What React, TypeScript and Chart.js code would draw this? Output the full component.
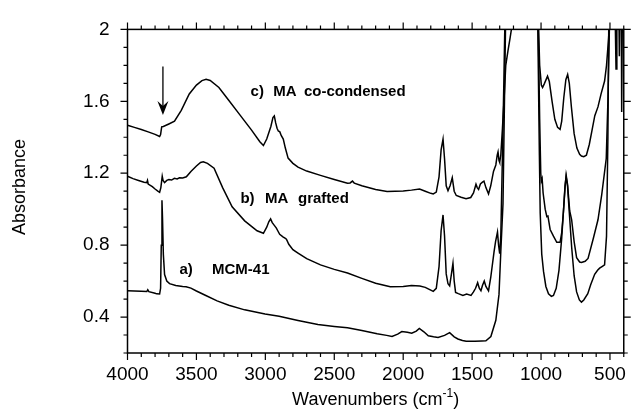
import React, { useEffect, useRef } from "react";
import { Chart, registerables } from "chart.js";

Chart.register(...registerables);

// ---- data (wavenumber cm-1 / absorbance) ----
const WN_A = [4000,3950,3900,3860,3853,3845,3800,3788,3767,3760,3755,3750,3746,3740,3731,3715,3695,3650,3600,3575,3540,3500,3432,3350,3265,3150,3002,2900,2763,2619,2500,2404,2300,2189,2120,2081,2040,2010,1970,1938,1905,1883,1850,1818,1780,1747,1700,1663,1630,1603,1570,1543,1480,1430,1400,1364,1328,1305,1292,1276,1257,1240,1100,1040,1025,1012,1006,995,982,965,946,925,910,890,870,850,835,826,818,808,795,778,760,742,722,707,690,661,640,611,590,575,555,539,525,515,508,490,400];
const ABS_A = [0.546,0.545,0.543,0.542,0.552,0.541,0.532,0.529,0.528,0.56,0.8,1.049,0.95,0.75,0.636,0.6,0.586,0.576,0.57,0.568,0.561,0.545,0.52,0.49,0.466,0.44,0.417,0.405,0.381,0.358,0.348,0.34,0.325,0.307,0.298,0.292,0.305,0.319,0.315,0.31,0.322,0.337,0.318,0.296,0.29,0.286,0.298,0.313,0.29,0.278,0.27,0.265,0.266,0.267,0.268,0.292,0.382,0.526,0.762,1.03,2.05,2.4,2.5,2.5,2.1,1.3,0.977,0.75,0.654,0.57,0.529,0.515,0.52,0.56,0.66,0.84,1.02,1.13,1.18,1.13,0.98,0.79,0.63,0.54,0.495,0.483,0.495,0.53,0.58,0.638,0.66,0.672,0.682,0.69,0.85,1.4,2.1,2.5,2.5];

const WN_B = [4000,3960,3920,3880,3860,3855,3850,3820,3800,3780,3767,3758,3748,3742,3731,3715,3700,3680,3660,3640,3623,3600,3573,3540,3500,3470,3450,3420,3372,3310,3241,3150,3060,3014,2990,2975,2962,2950,2935,2920,2910,2896,2870,2860,2847,2830,2800,2763,2700,2600,2500,2404,2300,2200,2094,2000,1940,1879,1840,1800,1782,1760,1740,1725,1711,1700,1688,1675,1663,1650,1639,1630,1620,1600,1567,1540,1508,1490,1475,1460,1448,1436,1425,1412,1400,1381,1365,1341,1330,1316,1308,1300,1292,1280,1270,1262,1240,1100,1040,1022,1010,1002,998,992,985,970,958,950,934,910,886,862,850,838,826,818,808,792,778,760,742,720,707,680,659,620,587,560,527,515,503,480,400];
const ABS_B = [1.183,1.17,1.16,1.15,1.148,1.16,1.14,1.125,1.112,1.1,1.094,1.12,1.183,1.16,1.148,1.16,1.165,1.162,1.172,1.168,1.175,1.174,1.18,1.21,1.24,1.26,1.264,1.255,1.228,1.12,1.013,0.935,0.88,0.866,0.9,0.93,0.946,0.925,0.91,0.895,0.88,0.86,0.845,0.84,0.833,0.805,0.775,0.756,0.725,0.69,0.665,0.645,0.615,0.588,0.568,0.57,0.575,0.573,0.565,0.55,0.543,0.56,0.68,0.88,0.968,0.85,0.64,0.585,0.573,0.64,0.699,0.6,0.537,0.53,0.52,0.528,0.52,0.54,0.56,0.591,0.56,0.546,0.575,0.6,0.57,0.546,0.62,0.762,0.82,0.873,0.8,0.753,0.85,1.3,1.7,2.05,2.4,2.5,2.5,2.1,1.5,1.2,1.156,1.17,1.09,1.0,0.959,0.962,0.887,0.85,0.816,0.816,0.87,0.98,1.12,1.19,1.14,0.99,0.941,0.82,0.73,0.706,0.704,0.71,0.726,0.84,0.941,1.08,1.282,1.6,2.05,2.4,2.4];

const WN_C = [4000,3950,3900,3850,3800,3767,3760,3752,3740,3700,3659,3610,3552,3500,3460,3430,3400,3337,3270,3193,3100,3040,3014,2990,2960,2945,2935,2925,2915,2906,2895,2885,2870,2855,2835,2800,2763,2700,2600,2500,2404,2385,2368,2355,2300,2200,2117,2000,1940,1881,1840,1800,1782,1760,1740,1725,1711,1700,1688,1675,1660,1644,1630,1615,1580,1544,1510,1490,1472,1463,1453,1440,1425,1414,1400,1381,1365,1345,1328,1318,1312,1305,1300,1292,1280,1269,1256,1240,1225,1209,1180,1100,1040,1025,1010,998,989,975,953,940,920,900,880,862,850,835,820,807,795,780,760,740,720,707,690,671,650,630,610,587,565,539,525,510,500,480,465,456,450,438,432,426,418,415,410,400];
const ABS_C = [1.467,1.455,1.443,1.43,1.416,1.404,1.415,1.458,1.46,1.474,1.489,1.55,1.641,1.69,1.715,1.722,1.716,1.677,1.61,1.533,1.44,1.375,1.354,1.39,1.46,1.51,1.519,1.48,1.45,1.435,1.43,1.41,1.39,1.34,1.284,1.255,1.234,1.212,1.188,1.165,1.144,1.146,1.156,1.145,1.13,1.11,1.099,1.101,1.106,1.112,1.1,1.088,1.085,1.095,1.18,1.33,1.39,1.28,1.13,1.103,1.13,1.175,1.1,1.076,1.066,1.058,1.065,1.09,1.139,1.12,1.11,1.14,1.15,1.156,1.12,1.085,1.13,1.21,1.246,1.3,1.318,1.27,1.26,1.3,1.45,1.6,1.8,1.88,1.95,2.03,2.3,2.5,2.5,2.2,1.8,1.69,1.677,1.7,1.74,1.71,1.6,1.5,1.455,1.444,1.49,1.62,1.72,1.749,1.7,1.57,1.42,1.34,1.305,1.296,1.292,1.3,1.36,1.44,1.52,1.569,1.64,1.713,1.8,1.95,2.1,2.3,2.2,1.78,2.2,2.3,1.85,2.3,2.2,1.54,2.1,2.3];

const X_TICK_LABELS = [4000, 3500, 3000, 2500, 2000, 1500, 1000, 500];
const Y_TICK_LABELS = [0.4, 0.8, 1.2, 1.6, 2];
const X_TITLE = "Wavenumbers (cm";
const X_TITLE_SUP = "-1";
const Y_TITLE = "Absorbance";
const SERIES_TEXT = [
  ["a)", "MCM-41"],
  ["b)", "MA", "grafted"],
  ["c)", "MA", "co-condensed"],
];

const FONT = '"Liberation Sans", Arial, Helvetica, sans-serif';

const toPts = (xs: number[], ys: number[]) => xs.map((x, i) => ({ x, y: ys[i] }));

// text anchors in data coordinates (wavenumber of left edge, absorbance at middle)
const LABEL_ANCHORS = [
  [[3623, 0.661], [3387, 0.661]],
  [[3181, 1.056], [3002, 1.056], [2763, 1.056]],
  [[3107, 1.655], [2942, 1.655], [2720, 1.655]],
];

const decor = {
  id: "decor",
  afterDraw(chart: any) {
    const { ctx, chartArea, scales } = chart;
    const { left, right, top, bottom } = chartArea;
    const xs = scales.x, ys = scales.y;
    ctx.save();
    ctx.strokeStyle = "#000";
    ctx.fillStyle = "#000";
    ctx.lineWidth = 1.5;
    ctx.strokeRect(left, top, right - left, bottom - top);
    ctx.lineWidth = 1.2;
    ctx.beginPath();
    for (let v = 400; v <= 4000; v += 100) {
      const px = xs.getPixelForValue(v);
      const len = v % 500 === 0 ? 7 : 4;
      ctx.moveTo(px, bottom); ctx.lineTo(px, bottom + len);
      ctx.moveTo(px, top); ctx.lineTo(px, top - len);
    }
    for (let i = 2; i <= 20; i++) {
      const py = ys.getPixelForValue(i / 10);
      const len = i % 4 === 0 ? 7 : 4;
      ctx.moveTo(left, py); ctx.lineTo(left - len, py);
      ctx.moveTo(right, py); ctx.lineTo(right + len, py);
    }
    ctx.stroke();

    // series labels
    ctx.font = `bold 15px ${FONT}`;
    ctx.textBaseline = "middle";
    ctx.textAlign = "left";
    SERIES_TEXT.forEach((parts, si) => {
      parts.forEach((t, pi) => {
        const [w, a] = LABEL_ANCHORS[si][pi];
        ctx.fillText(t, xs.getPixelForValue(w), ys.getPixelForValue(a));
      });
    });

    // arrow
    const ax = xs.getPixelForValue(3743);
    const ay0 = ys.getPixelForValue(1.793);
    const ay1 = ys.getPixelForValue(1.524);
    ctx.lineWidth = 1.3;
    ctx.beginPath();
    ctx.moveTo(ax, ay0); ctx.lineTo(ax, ay1 - 8);
    ctx.stroke();
    ctx.beginPath();
    ctx.moveTo(ax, ay1);
    ctx.lineTo(ax - 5.5, ay1 - 14);
    ctx.lineTo(ax, ay1 - 9);
    ctx.lineTo(ax + 5.5, ay1 - 14);
    ctx.closePath();
    ctx.fill();

    // axis titles
    ctx.font = `18px ${FONT}`;
    ctx.textBaseline = "middle";
    const cx = (left + right) / 2;
    const w1 = ctx.measureText(X_TITLE).width;
    ctx.font = `12px ${FONT}`;
    const w2 = ctx.measureText(X_TITLE_SUP).width;
    ctx.font = `18px ${FONT}`;
    const w3 = ctx.measureText(")").width;
    let sx = cx - (w1 + w2 + w3) / 2;
    const ty = 400;
    ctx.textAlign = "left";
    ctx.fillText(X_TITLE, sx, ty);
    ctx.font = `12px ${FONT}`;
    ctx.fillText(X_TITLE_SUP, sx + w1, ty - 6);
    ctx.font = `18px ${FONT}`;
    ctx.fillText(")", sx + w1 + w2, ty);

    ctx.translate(20, 187);
    ctx.rotate(-Math.PI / 2);
    ctx.textAlign = "center";
    ctx.fillText(Y_TITLE, 0, 0);
    ctx.restore();
  },
};

export default function App() {
  const ref = useRef<HTMLCanvasElement | null>(null);
  useEffect(() => {
    document.body.style.margin = "0";
    const canvas = ref.current!;
    const mk = (xs: number[], ys: number[]) => ({
      data: toPts(xs, ys),
      borderColor: "#000",
      borderWidth: 1.5,
      pointRadius: 0,
      tension: 0,
      fill: false,
    });
    const chart = new Chart(canvas, {
      type: "line",
      data: {
        datasets: [mk(WN_A, ABS_A), mk(WN_B, ABS_B), mk(WN_C, ABS_C)],
      },
      options: {
        animation: false,
        responsive: false,
        devicePixelRatio: 1,
        layout: { padding: { top: 20, right: 6.5, left: 0, bottom: 0 } },
        plugins: { legend: { display: false }, tooltip: { enabled: false } },
        scales: {
          x: {
            type: "linear",
            reverse: true,
            min: 400,
            max: 4000,
            afterFit: (s: any) => { s.height = 56; },
            afterBuildTicks: (s: any) => { s.ticks = X_TICK_LABELS.map((v) => ({ value: v })); },
            grid: { display: false, drawTicks: false },
            border: { display: false },
            ticks: {
              autoSkip: false,
              maxRotation: 0,
              padding: 10,
              color: "#000",
              font: { family: FONT, size: 19 },
              callback: (v: any) => String(v),
            },
          },
          y: {
            type: "linear",
            min: 0.2,
            max: 2,
            afterFit: (s: any) => { s.width = 127.5; },
            afterBuildTicks: (s: any) => { s.ticks = Y_TICK_LABELS.map((v) => ({ value: v })); },
            grid: { display: false, drawTicks: false },
            border: { display: false },
            ticks: {
              autoSkip: false,
              padding: 18,
              color: "#000",
              font: { family: FONT, size: 19 },
              callback: (v: any) => String(Math.round(Number(v) * 10) / 10),
            },
          },
        },
      },
      plugins: [decor],
    });
    return () => chart.destroy();
  }, []);
  return (
    <div style={{ position: "absolute", left: 0, top: 0, width: 636, height: 409 }}>
      <canvas ref={ref} width={636} height={409} />
    </div>
  );
}
